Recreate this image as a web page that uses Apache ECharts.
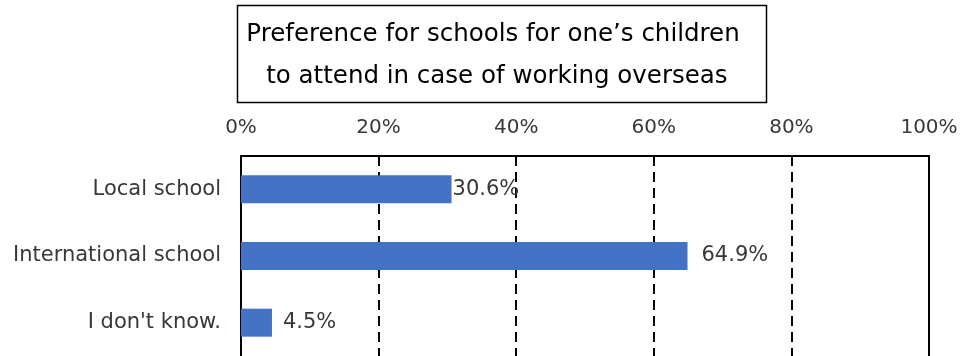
<!DOCTYPE html>
<html>
<head>
<meta charset="utf-8">
<script src="https://cdn.jsdelivr.net/npm/echarts@6/dist/echarts.min.js"></script>
<style>
  html, body { margin: 0; padding: 0; background: #fff; }
  #chart { width: 964px; height: 356px; }
</style>
</head>
<body>
<div id="chart"></div>
<script>
// Survey answers: school preference when working abroad (percent)
const categories = ['Local school', 'International school', "I don't know."];
const shares = [30.6, 64.9, 4.5];
const labelGaps = [1, 14, 11];
const titleLines = ["Preference for schools for one\u2019s children", ' to attend in case of working overseas'];

const FONT = '"DejaVu Sans", "Noto Sans", sans-serif';
const TEXT = '#383838';

const chart = echarts.init(document.getElementById('chart'), null, { renderer: 'canvas' });

chart.setOption({
  animation: false,
  backgroundColor: '#fff',
  grid: { left: 241, right: 35, top: 156, height: 201 },
  graphic: [
    {
      type: 'rect',
      shape: { x: 237.5, y: 5.5, width: 529, height: 97 },
      style: { fill: '#fff', stroke: '#000', lineWidth: 1.5 }
    },
    {
      type: 'text',
      x: 493, y: 56,
      style: {
        text: titleLines.join('\n'),
        font: '24.5px ' + FONT,
        fill: '#000',
        align: 'center',
        verticalAlign: 'middle',
        lineHeight: 42
      }
    }
  ],
  xAxis: {
    type: 'value',
    position: 'top',
    min: 0, max: 100, interval: 20,
    axisLine: { show: true, lineStyle: { color: '#000', width: 2 } },
    axisTick: { show: false },
    axisLabel: {
      formatter: '{value}%',
      color: TEXT, fontFamily: FONT, fontSize: 20, margin: 18
    },
    splitLine: { show: true, lineStyle: { color: '#000', width: 2, type: [10, 6] } }
  },
  yAxis: [
    {
      type: 'category',
      data: categories,
      inverse: true,
      axisLine: { show: true, lineStyle: { color: '#000', width: 2 } },
      axisTick: { show: false },
      axisLabel: { color: TEXT, fontFamily: FONT, fontSize: 21, margin: 20, padding: [4, 0, 0, 0] }
    },
    {
      type: 'category',
      data: categories,
      inverse: true,
      position: 'right',
      axisLine: { show: true, lineStyle: { color: '#000', width: 2 } },
      axisTick: { show: false },
      axisLabel: { show: false }
    }
  ],
  series: [{
    type: 'bar',
    barWidth: 28,
    itemStyle: { color: '#4472C4' },
    data: shares.map((v, i) => ({
      value: v,
      label: { distance: labelGaps[i] }
    })),
    label: {
      show: true,
      position: 'right',
      formatter: p => p.value.toFixed(1) + '%',
      color: TEXT, fontFamily: FONT, fontSize: 21,
      padding: [4, 0, 0, 0]
    },
    z: 1
  }]
});
</script>
</body>
</html>
